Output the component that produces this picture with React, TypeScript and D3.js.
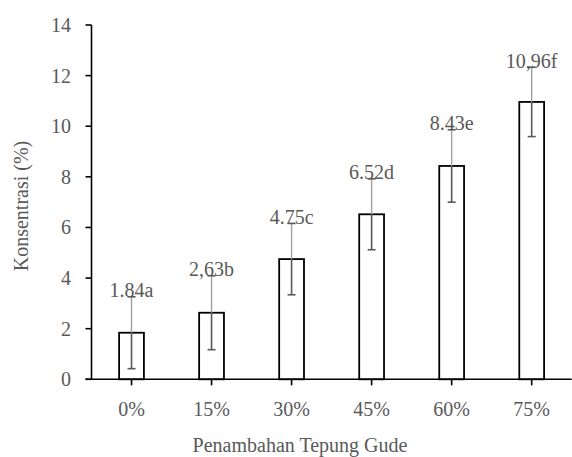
import * as d3 from 'd3';

// data
const categories = ['0%', '15%', '30%', '45%', '60%', '75%'];
const values = [1.84, 2.63, 4.75, 6.52, 8.43, 10.96];
const errors = [1.42, 1.46, 1.41, 1.4, 1.43, 1.37];
const labels = ['1.84a', '2,63b', '4.75c', '6.52d', '8.43e', '10,96f'];
const yTicks = [0, 2, 4, 6, 8, 10, 12, 14];

const W = 572;
const H = 457;
const left = 91.5;
const right = 571.7;
const top = 25;
const bottom = 379.3;
const font = "'Liberation Serif', Tinos, 'Times New Roman', Times, 'DejaVu Serif', serif";
const grey = '#595959';

const txt = { fontFamily: font, fontSize: 20, fill: grey };

export default function App() {
  const x = d3.scaleBand<string>()
    .domain(categories)
    .range([left, right])
    .paddingInner(0.69)
    .paddingOuter(0.345);

  const y = d3.scaleLinear().domain([0, 14]).range([bottom, top]);
  const bw = x.bandwidth();

  return (
    <svg width={W} height={H} style={{ position: 'absolute', left: 0, top: 0 }}>
      {/* barras */}
      {categories.map((c, i) => (
        <rect
          key={c}
          x={x(c)}
          y={y(values[i])}
          width={bw}
          height={y(0) - y(values[i])}
          fill="#fff"
          stroke="#000"
          strokeWidth={1.8}
        />
      ))}

      {/* error bars */}
      {categories.map((c, i) => {
        const cx = (x(c) as number) + bw / 2;
        const hi = y(values[i] + errors[i]);
        const lo = y(values[i] - errors[i]);
        const yv = y(values[i]);
        return (
          <g key={c}>
            <line x1={cx} x2={cx} y1={yv} y2={lo} stroke={grey} strokeWidth={1.6} />
            <line x1={cx} x2={cx} y1={hi} y2={yv} stroke="#a0a0a0" strokeWidth={1.4} />
            <line x1={cx - 4} x2={cx + 4} y1={hi} y2={hi} stroke={grey} strokeWidth={1.6} />
            <line x1={cx - 4} x2={cx + 4} y1={lo} y2={lo} stroke={grey} strokeWidth={1.6} />
          </g>
        );
      })}

      {/* etiquetas */}
      {categories.map((c, i) => (
        <text
          key={c}
          x={(x(c) as number) + bw / 2}
          y={y(values[i] + errors[i]) + 0.5}
          textAnchor="middle"
          style={txt}
        >
          {labels[i]}
        </text>
      ))}

      {/* ejes */}
      <line x1={left} x2={left} y1={top} y2={bottom} stroke="#000" strokeWidth={1.6} />
      <line x1={left - 6} x2={right} y1={bottom} y2={bottom} stroke="#000" strokeWidth={1.6} />
      {yTicks.map((t) => (
        <g key={t}>
          <line x1={left - 6} x2={left} y1={y(t)} y2={y(t)} stroke="#000" strokeWidth={1.6} />
          <text x={71} y={y(t) + 7} textAnchor="end" style={txt}>
            {t}
          </text>
        </g>
      ))}
      {categories.map((c) => {
        const cx = (x(c) as number) + bw / 2;
        return (
          <g key={c}>
            <line x1={cx} x2={cx} y1={bottom} y2={bottom + 6} stroke="#000" strokeWidth={1.6} />
            <text x={cx} y={415.5} textAnchor="middle" style={txt}>
              {c}
            </text>
          </g>
        );
      })}

      {/* títulos */}
      <text transform={`translate(28,206) rotate(-90)`} textAnchor="middle" style={txt}>
        Konsentrasi (%)
      </text>
      <text x={300} y={452} textAnchor="middle" style={txt}>
        Penambahan Tepung Gude
      </text>
    </svg>
  );
}
